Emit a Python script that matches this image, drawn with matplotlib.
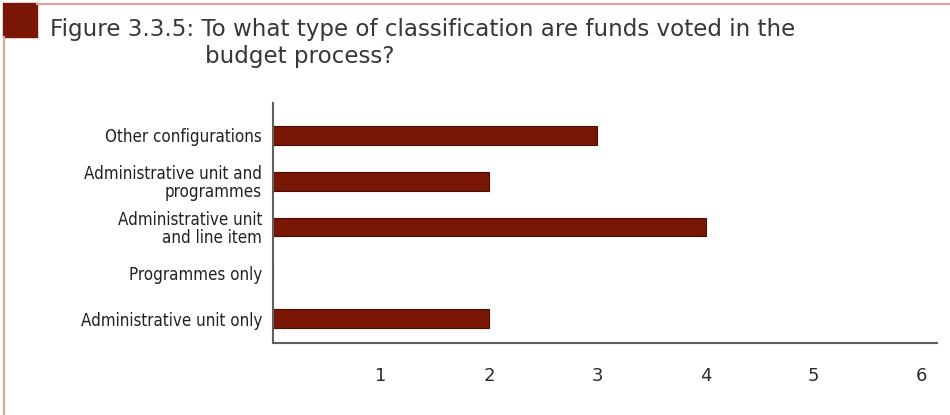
import matplotlib
matplotlib.use("Agg")
import matplotlib.pyplot as plt
from matplotlib.patches import Rectangle
from matplotlib.lines import Line2D

categories = [
    "Administrative unit only",
    "Programmes only",
    "Administrative unit\nand line item",
    "Administrative unit and\nprogrammes",
    "Other configurations",
]
counts = [2, 0, 4, 2, 3]
x_ticks = [1, 2, 3, 4, 5, 6]
title_line1 = "Figure 3.3.5: To what type of classification are funds voted in the"
title_line2 = "budget process?"

BAR = "#7a1605"
EDGE = "#4a0d02"
AXIS = "#5f5f5f"
FRAME = "#d9a595"
TEXT = "#2b2b2b"

fig = plt.figure(figsize=(9.5, 4.15), dpi=100)
W, H = 950, 415

# page frame and corner marker
fig.add_artist(Line2D([37 / W, 1.0], [1 - 4 / H, 1 - 4 / H], color=FRAME, lw=1.6,
                      transform=fig.transFigure))
fig.add_artist(Line2D([4 / W, 4 / W], [0.0, 1 - 37 / H], color=FRAME, lw=1.6,
                      transform=fig.transFigure))
fig.add_artist(Rectangle((3 / W, 1 - 37 / H), 34 / W, 34 / H, color=BAR,
                         transform=fig.transFigure))

fig.text(50 / W, 1 - 36 / H, title_line1, fontsize=16.6, color="#383838",
         family="DejaVu Sans", va="baseline", ha="left")
fig.text(205 / W, 1 - 63 / H, title_line2, fontsize=16.6, color="#383838",
         family="DejaVu Sans", va="baseline", ha="left")

ax = fig.add_axes([273 / W, 1 - 343 / H, (937 - 273) / W, (343 - 103) / H])
y = list(range(len(categories)))
ax.barh(y, counts, height=0.415, color=BAR, edgecolor=EDGE, linewidth=0.8)

ax.set_xlim(0, 6.14)
ax.set_ylim(-0.535, 4.71)
ax.set_xticks(x_ticks)
ax.set_xticklabels([str(t) for t in x_ticks], fontsize=13, color=TEXT,
                   family="DejaVu Sans")
ax.set_yticks(y)
ax.set_yticklabels(categories, fontsize=12.2, color="#222222",
                   family="DejaVu Sans", fontstretch="condensed",
                   linespacing=1.0)
ax.tick_params(axis="both", length=0)
ax.tick_params(axis="x", pad=17)
ax.tick_params(axis="y", pad=8)
for side in ("top", "right"):
    ax.spines[side].set_visible(False)
for side in ("left", "bottom"):
    ax.spines[side].set_color(AXIS)
    ax.spines[side].set_linewidth(1.5)

fig.savefig("out.png", dpi=100)
